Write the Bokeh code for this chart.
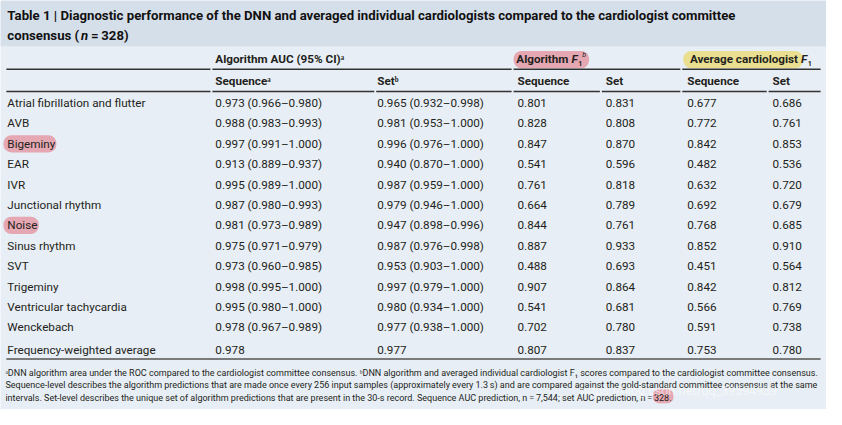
from bokeh.plotting import figure
from bokeh.models import ColumnDataSource, Range1d
from bokeh.embed import file_html
from bokeh.resources import INLINE
from bokeh.core.properties import value

# ---------------- data ----------------
categories = ["Atrial fibrillation and flutter", "AVB", "Bigeminy", "EAR", "IVR",
              "Junctional rhythm", "Noise", "Sinus rhythm", "SVT", "Trigeminy",
              "Ventricular tachycardia", "Wenckebach"]
auc_seq = [0.973, 0.988, 0.997, 0.913, 0.995, 0.987, 0.981, 0.975, 0.973, 0.998, 0.995, 0.978]
auc_seq_lo = [0.966, 0.983, 0.991, 0.889, 0.989, 0.980, 0.973, 0.971, 0.960, 0.995, 0.980, 0.967]
auc_seq_hi = [0.980, 0.993, 1.000, 0.937, 1.000, 0.993, 0.989, 0.979, 0.985, 1.000, 1.000, 0.989]
auc_set = [0.965, 0.981, 0.996, 0.940, 0.987, 0.979, 0.947, 0.987, 0.953, 0.997, 0.980, 0.977]
auc_set_lo = [0.932, 0.953, 0.976, 0.870, 0.959, 0.946, 0.898, 0.976, 0.903, 0.979, 0.934, 0.938]
auc_set_hi = [0.998, 1.000, 1.000, 1.000, 1.000, 1.000, 0.996, 0.998, 1.000, 1.000, 1.000, 1.000]
alg_f1_seq = [0.801, 0.828, 0.847, 0.541, 0.761, 0.664, 0.844, 0.887, 0.488, 0.907, 0.541, 0.702]
alg_f1_set = [0.831, 0.808, 0.870, 0.596, 0.818, 0.789, 0.761, 0.933, 0.693, 0.864, 0.681, 0.780]
card_f1_seq = [0.677, 0.772, 0.842, 0.482, 0.632, 0.692, 0.768, 0.852, 0.451, 0.842, 0.566, 0.591]
card_f1_set = [0.686, 0.761, 0.853, 0.536, 0.720, 0.679, 0.685, 0.910, 0.564, 0.812, 0.769, 0.738]

avg_label = "Frequency-weighted average"
avg_values = [0.978, 0.977, 0.807, 0.837, 0.753, 0.780]

highlighted = ["Bigeminy", "Noise"]

title_line1 = ("Table 1 | Diagnostic performance of the DNN and averaged individual "
               "cardiologists compared to the cardiologist committee")
title_line2 = ["consensus (", "n", "\u2009=\u2009328)"]
group_headers = ["Algorithm AUC (95% CI)\u1d43", "Algorithm", "Average cardiologist"]
sub_headers = ["Sequence\u1d43", "Set\u1d47", "Sequence", "Set", "Sequence", "Set"]
footnotes = [
    "\u1d43DNN algorithm area under the ROC compared to the cardiologist committee consensus. "
    "\u1d47DNN algorithm and averaged individual cardiologist F\u2081 scores compared to the cardiologist committee consensus.",
    "Sequence-level describes the algorithm predictions that are made once every 256 input samples "
    "(approximately every 1.3\u2009s) and are compared against the gold-standard committee consensus at the same",
    "intervals. Set-level describes the unique set of algorithm predictions that are present in the 30-s record. "
    "Sequence AUC prediction, n\u2009=\u20097,544; set AUC prediction, n\u2009=\u2009328.",
]
watermark = "https://blog.csdn.net/qq_39594939"

# ---------------- styling ----------------
FONT = value("Roboto")
INK = "#231f20"
BODY_BG = "#e8eef5"
TITLE_BG = "#d5dfea"
PINK = "#e49aa6"
YELLOW = "#eadd8a"
BODY_SIZE = "11.7px"

col_x = [219, 384, 527, 617, 700, 787]
label_x = 7
row_y0, row_dy = 106.5, 21.2
avg_y = 362.7

p = figure(width=826, height=409, x_range=Range1d(0, 842), y_range=Range1d(425, 0),
           output_backend="svg", toolbar_location=None, min_border=0,
           x_axis_location=None, y_axis_location=None)
p.grid.visible = False
p.outline_line_color = None
p.background_fill_color = BODY_BG
p.border_fill_color = BODY_BG

# title band
p.quad(left=[0], right=[842], top=[0], bottom=[47.5], fill_color=TITLE_BG, line_color=None)

# highlight boxes
row_ys = [row_y0 + row_dy * i for i in range(len(categories))]
hl_rows = [categories.index(h) for h in highlighted]
hl_w = {"Bigeminy": 54, "Noise": 36}
p.quad(left=[3 for _ in hl_rows], right=[3 + hl_w[categories[i]] for i in hl_rows],
       top=[row_ys[i] - 9 for i in hl_rows], bottom=[row_ys[i] + 9 for i in hl_rows],
       fill_color=PINK, fill_alpha=0.85, line_color=None, border_radius=8)
p.quad(left=[523], right=[600], top=[52.5], bottom=[70.5], fill_color=PINK, fill_alpha=0.85,
       line_color=None, border_radius=8)
p.quad(left=[696], right=[818], top=[52.5], bottom=[70.5], fill_color=YELLOW, fill_alpha=0.95,
       line_color=None, border_radius=8)
p.quad(left=[665], right=[686], top=[404], bottom=[418.5], fill_color=PINK, fill_alpha=0.85,
       line_color=None, border_radius=6)

# title
p.text(x=[7], y=[16], text=[title_line1], text_font=FONT, text_font_style="bold",
       text_font_size="13.2px", text_color="#111111", text_baseline="middle")
p.text(x=[7], y=[36], text=[title_line2[0]], text_font=FONT, text_font_style="bold",
       text_font_size="13.2px", text_color="#111111", text_baseline="middle")
p.text(x=[82], y=[36], text=[title_line2[1]], text_font=FONT, text_font_style="bold italic",
       text_font_size="13.2px", text_color="#111111", text_baseline="middle")
p.text(x=[89.5], y=[36], text=[title_line2[2]], text_font=FONT, text_font_style="bold",
       text_font_size="13.2px", text_color="#111111", text_baseline="middle")

# header rules
for segs, yy in [([(6, 214), (216, 521), (523, 693), (695, 836)], 71.5),
                 ([(6, 214), (216, 381), (383, 521), (523, 611), (613, 693), (695, 781), (783, 836)], 94.5)]:
    p.multi_line(xs=[[a, b] for a, b in segs], ys=[[yy, yy] for _ in segs],
                 line_color="#333333", line_width=1.5)
p.line(x=[6, 836], y=[372.5, 372.5], line_color="#7a7a7a", line_width=2)

# group headers
p.text(x=[col_x[0]], y=[61], text=[group_headers[0]], text_font=FONT,
       text_font_style="bold", text_font_size=BODY_SIZE, text_color=INK, text_baseline="middle")
p.text(x=[579, 813], y=[61, 61], text=group_headers[1:], text_font=FONT, text_align="right",
       text_font_style="bold", text_font_size=BODY_SIZE, text_color=INK, text_baseline="middle")
# F1 pieces
p.text(x=[582, 816], y=[61, 61], text=["F", "F"], text_font=FONT, text_font_style="bold italic",
       text_font_size=BODY_SIZE, text_color=INK, text_baseline="middle")
p.text(x=[589, 823], y=[65, 65], text=["1", "1"], text_font=FONT, text_font_style="bold",
       text_font_size="7.2px", text_color=INK, text_baseline="middle")
p.text(x=[593], y=[56], text=["b"], text_font=FONT, text_font_style="italic",
       text_font_size="7.2px", text_color=INK, text_baseline="middle")

# sub headers
p.text(x=col_x, y=[84] * 6, text=sub_headers, text_font=FONT, text_font_style="bold",
       text_font_size=BODY_SIZE, text_color=INK, text_baseline="middle")

# body
def fmt_ci(v, lo, hi):
    return f"{v:.3f} ({lo:.3f}\u2013{hi:.3f})"

src = ColumnDataSource(dict(
    y=row_ys,
    label=categories,
    c0=[fmt_ci(*t) for t in zip(auc_seq, auc_seq_lo, auc_seq_hi)],
    c1=[fmt_ci(*t) for t in zip(auc_set, auc_set_lo, auc_set_hi)],
    c2=[f"{v:.3f}" for v in alg_f1_seq],
    c3=[f"{v:.3f}" for v in alg_f1_set],
    c4=[f"{v:.3f}" for v in card_f1_seq],
    c5=[f"{v:.3f}" for v in card_f1_set],
))
p.text(x=label_x, y="y", text="label", source=src, text_font=FONT, text_font_size=BODY_SIZE,
       text_color=INK, text_baseline="middle")
for i, cx in enumerate(col_x):
    p.text(x=cx, y="y", text=f"c{i}", source=src, text_font=FONT, text_font_size=BODY_SIZE,
           text_color=INK, text_baseline="middle")

# average row
p.text(x=[label_x] + col_x, y=[avg_y] * 7, text=[avg_label] + [f"{v:.3f}" for v in avg_values],
       text_font=FONT, text_font_size=BODY_SIZE, text_color=INK, text_baseline="middle")

# footnotes
p.text(x=[5, 5, 5], y=[386.7, 400, 413.3], text=footnotes, text_font=FONT, text_font_size="9.0px",
       text_color=INK, text_baseline="middle")

# watermark
p.text(x=[591], y=[405], text=[watermark], text_font=FONT, text_font_size="12.5px",
       text_color="#ffffff", text_alpha=0.55, text_baseline="middle")

open("out.html", "w").write(file_html(p, INLINE))
